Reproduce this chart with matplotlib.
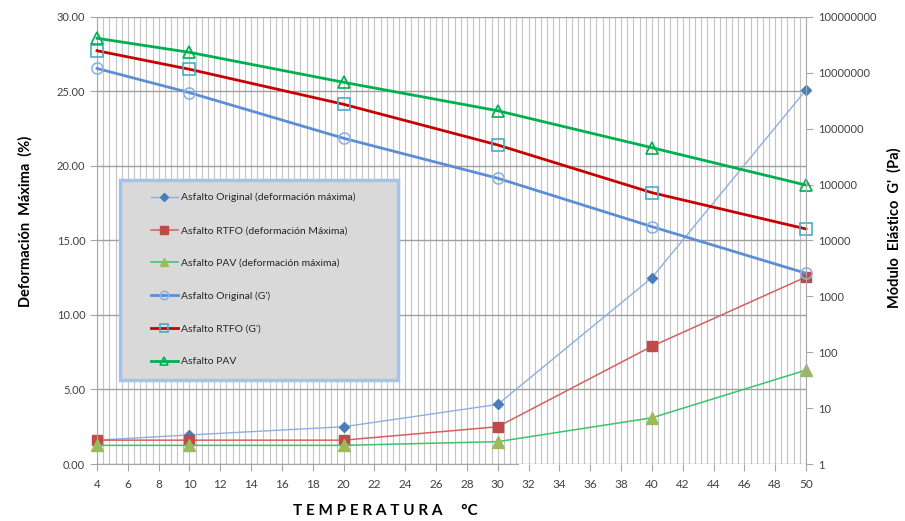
import matplotlib
matplotlib.use("Agg")
import matplotlib.pyplot as plt
from matplotlib.ticker import MultipleLocator, FixedLocator, FuncFormatter
from matplotlib.patches import Rectangle

plt.rcParams['font.family'] = ['Lato', 'DejaVu Sans']

temperatura = [4, 10, 20, 30, 40, 50]

# deformacion maxima (%), eje izquierdo
def_original = [1.6, 1.95, 2.5, 4.0, 12.5, 25.1]
def_rtfo = [1.6, 1.6, 1.6, 2.5, 7.9, 12.55]
def_pav = [1.25, 1.25, 1.25, 1.5, 3.1, 6.3]

# modulo elastico G' (Pa), eje derecho logaritmico
g_original = [1.2e7, 4.42e6, 6.76e5, 1.30e5, 1.77e4, 2.59e3]
g_rtfo = [2.49e7, 1.16e7, 2.74e6, 5.12e5, 7.18e4, 1.61e4]
g_pav = [4.16e7, 2.33e7, 6.78e6, 2.10e6, 4.58e5, 9.8e4]

fig = plt.figure(figsize=(9.05, 5.21), dpi=100)
ax1 = fig.add_axes([0.1072, 0.1094, 0.7834, 0.858])
ax2 = ax1.twinx()

gris = '#A6A6A6'
texto = '#404040'

# rejilla
ax1.set_xlim(4, 50)
ax1.set_ylim(0, 30)
ax1.xaxis.set_major_locator(MultipleLocator(2))
ax1.xaxis.set_minor_locator(MultipleLocator(0.4))
ax1.yaxis.set_major_locator(MultipleLocator(5))
ax1.grid(True, axis='x', which='both', color='#C4C4C4', lw=0.8)
ax1.grid(True, axis='y', which='major', color='#A0A0A0', lw=1.0)
ax1.set_axisbelow(True)

l1, = ax1.plot(temperatura, def_original, color='#8DB0E0', lw=1.0,
               marker='D', ms=5.5, mfc='#4A7EBB', mec='#4A7EBB',
               clip_on=False, label='Asfalto Original (deformación máxima)')
l2, = ax1.plot(temperatura, def_rtfo, color='#D65F5F', lw=1.1,
               marker='s', ms=7, mfc='#BE4B48', mec='#BE4B48',
               clip_on=False, label='Asfalto RTFO (deformación Máxima)')
l3, = ax1.plot(temperatura, def_pav, color='#3CC46A', lw=1.1,
               marker='^', ms=8, mfc='#9BBB59', mec='#9BBB59',
               clip_on=False, label='Asfalto PAV (deformación máxima)')

l4, = ax2.plot(temperatura, g_original, color='#5B8ED6', lw=2.0,
               marker='o', ms=8, mfc='none', mec='#8DB3E2', mew=1.2,
               clip_on=False, label="Asfalto Original (G')")
l5, = ax2.plot(temperatura, g_rtfo, color='#C80000', lw=2.0,
               marker='s', ms=8, mfc='none', mec='#4BACC6', mew=1.2,
               clip_on=False, label="Asfalto RTFO (G')")
l6, = ax2.plot(temperatura, g_pav, color='#00B050', lw=2.0,
               marker='^', ms=8, mfc='none', mec='#00B050', mew=1.2,
               clip_on=False, label='Asfalto PAV')

ax2.set_yscale('log')
ax2.set_ylim(1, 1e8)
ax2.yaxis.set_major_locator(FixedLocator([10 ** k for k in range(9)]))
ax2.yaxis.set_minor_locator(FixedLocator([]))
ax2.yaxis.set_major_formatter(FuncFormatter(lambda v, p: '%d' % round(v)))

ax1.yaxis.set_major_formatter(FuncFormatter(lambda v, p: '%.2f' % v))

for ax in (ax1, ax2):
    for s in ax.spines.values():
        s.set_color(gris)
    ax.spines['top'].set_visible(False)
ax1.spines['right'].set_visible(False)
ax2.spines['left'].set_visible(False)
ax2.spines['bottom'].set_visible(False)
ax1.spines['bottom'].set_bounds(4, 31.3)

ax1.tick_params(axis='both', which='major', color=gris, length=5,
                labelsize=8, labelcolor=texto, direction='out')
ax1.tick_params(axis='x', which='minor', length=0)
ax1.tick_params(axis='x', pad=6, labelsize=8.5)
ax2.tick_params(axis='y', color=gris, length=5, labelsize=8,
                labelcolor=texto, direction='out')

fig.text(0.028, 0.575, 'Deformación  Máxima  (%)', rotation=90,
         ha='center', va='center', fontsize=10.5, fontweight='bold')
fig.text(0.988, 0.562, "Módulo  Elástico  G'  (Pa)", rotation=90,
         ha='center', va='center', fontsize=10.5, fontweight='bold')
fig.text(0.426, 0.019, 'T E M P E R A T U R A     °C', ha='center',
         va='center', fontsize=11, fontweight='bold')

# cuadro de la leyenda
caja = Rectangle((0.032, 0.188), 0.392, 0.447, transform=ax2.transAxes,
                 facecolor='#D9D9D9', edgecolor='#A4C2EE', lw=2.5, zorder=5)
ax2.add_patch(caja)
leg = ax2.legend(handles=[l1, l2, l3, l4, l5, l6], loc='upper left',
                 bbox_to_anchor=(0.064, 0.625), frameon=False, fontsize=7.5,
                 labelspacing=2.25, handlelength=2.6, handletextpad=0.3,
                 borderpad=0.3, markerscale=0.75)
leg.set_zorder(6)
for t in leg.get_texts():
    t.set_color('#262626')

fig.savefig('out.png', dpi=100)
